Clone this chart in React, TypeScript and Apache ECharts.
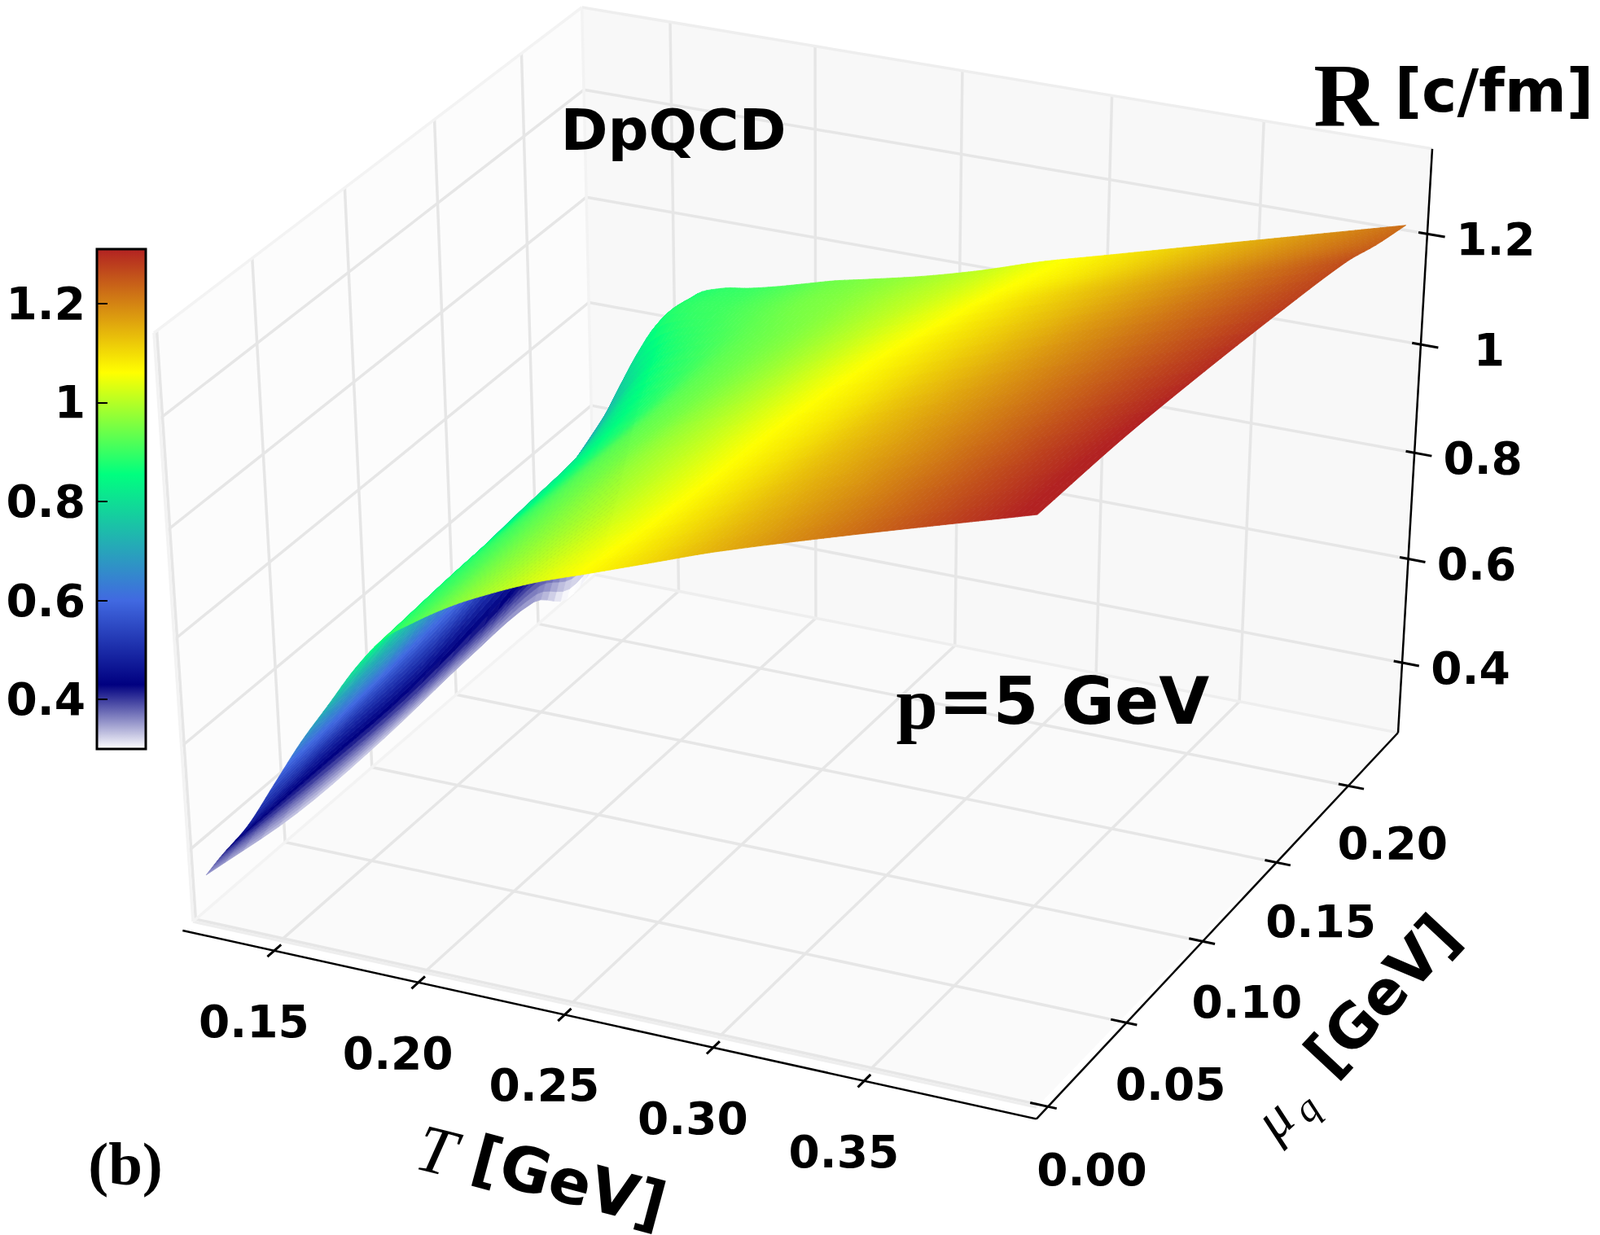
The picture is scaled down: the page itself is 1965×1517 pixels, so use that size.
import React, { useEffect, useRef } from "react";
import * as echarts from "echarts";

// ---------- data ----------
const temperatures = [0.124, 0.13, 0.14, 0.15, 0.16, 0.17, 0.18, 0.19, 0.2, 0.21, 0.22, 0.24, 0.26, 0.28, 0.3, 0.34, 0.4];
const chemicalPotentials = [0, 0.05, 0.1, 0.15, 0.19, 0.21, 0.23];
const rAtMu000 = [0.355, 0.4, 0.47, 0.56, 0.65, 0.73, 0.81, 0.875, 0.915, 0.95, 0.98, 1.03, 1.07, 1.11, 1.15, 1.22, 1.32];
const rAtMu005 = [0.325, 0.39, 0.49, 0.58, 0.67, 0.76, 0.83, 0.885, 0.92, 0.95, 0.975, 1.02, 1.06, 1.1, 1.14, 1.21, 1.315];
const rAtMu010 = [0.325, 0.39, 0.5, 0.61, 0.71, 0.785, 0.84, 0.885, 0.925, 0.95, 0.975, 1.015, 1.055, 1.09, 1.13, 1.2, 1.3];
const rAtMu015 = [0.34, 0.41, 0.55, 0.65, 0.735, 0.805, 0.855, 0.89, 0.925, 0.945, 0.965, 1.005, 1.045, 1.08, 1.115, 1.185, 1.28];
const rAtMu019 = [0.34, 0.44, 0.6, 0.72, 0.8, 0.86, 0.89, 0.91, 0.93, 0.945, 0.96, 0.995, 1.03, 1.065, 1.1, 1.165, 1.26];
const rAtMu021 = [0.29, 0.42, 0.64, 0.78, 0.87, 0.895, 0.905, 0.92, 0.935, 0.95, 0.96, 0.99, 1.02, 1.055, 1.085, 1.15, 1.24];
const rAtMu023 = [0.31, 0.42, 0.64, 0.79, 0.865, 0.89, 0.9, 0.913, 0.928, 0.943, 0.955, 0.98, 1.01, 1.045, 1.075, 1.135, 1.225];
const rRows = [rAtMu000, rAtMu005, rAtMu010, rAtMu015, rAtMu019, rAtMu021, rAtMu023];
const tTicks = [0.15, 0.2, 0.25, 0.3, 0.35];
const muTicks = [0, 0.05, 0.1, 0.15, 0.2];
const zTicks = [0.4, 0.6, 0.8, 1.0, 1.2];
const colorValues = [0.3, 0.43, 0.6, 0.855, 1.06, 1.31];
const colorNames = ["#ffffff", "#000080", "#4169e1", "#00ff7f", "#ffff00", "#b22222"];

// ---------- scene ----------
const W = 1965, H = 1517;
const T_LO = 0.1192, T_HI = 0.4045, MU_LO = -0.0015, MU_HI = 0.2356, Z_LO = 0.2627, Z_HI = 1.3507;
const cA = [237, 1132], cB = [1273, 1360], cC = [731, 706], cD = [1717, 900], cE = [189, 409], cH = [1759, 188];

function buildProjection() {
  const [x0, y0] = cA, [x1, y1] = cB, [x2, y2] = cD, [x3, y3] = cC;
  const dx1 = x1 - x2, dx2 = x3 - x2, sx = x0 - x1 + x2 - x3;
  const dy1 = y1 - y2, dy2 = y3 - y2, sy = y0 - y1 + y2 - y3;
  const den = dx1 * dy2 - dx2 * dy1;
  const g = (sx * dy2 - dx2 * sy) / den, h = (dx1 * sy - sx * dy1) / den;
  const p1 = x1 - x0 + g * x1, p2 = x3 - x0 + h * x3;
  const q1 = y1 - y0 + g * y1, q2 = y3 - y0 + h * y3;
  const [xe, ye] = cE, [xh, yh] = cH;
  const k = (p1 + p2 + xe - xh * (1 + g + h)) / (xh - xe);
  const p3 = xe * (1 + k) - x0, q3 = ye * (1 + k) - y0;
  return (u: number, v: number, w: number) => {
    const d = 1 + g * u + h * v + k * w;
    return [(x0 + p1 * u + p2 * v + p3 * w) / d, (y0 + q1 * u + q2 * v + q3 * w) / d];
  };
}
const projectUVW = buildProjection();
const nT = (t: number) => (t - T_LO) / (T_HI - T_LO);
const nMu = (m: number) => (m - MU_LO) / (MU_HI - MU_LO);
const nZ = (z: number) => (z - Z_LO) / (Z_HI - Z_LO);
const project = (t: number, m: number, z: number) => projectUVW(nT(t), nMu(m), nZ(z));

function rgb(hex: string) {
  return [parseInt(hex.slice(1, 3), 16), parseInt(hex.slice(3, 5), 16), parseInt(hex.slice(5, 7), 16)];
}
function colorOf(v: number) {
  let i = 0;
  while (i < colorValues.length - 2 && v > colorValues[i + 1]) i++;
  const f = Math.max(0, Math.min(1, (v - colorValues[i]) / (colorValues[i + 1] - colorValues[i])));
  const a = rgb(colorNames[i]), b = rgb(colorNames[i + 1]);
  return `rgb(${Math.round(a[0] + (b[0] - a[0]) * f)},${Math.round(a[1] + (b[1] - a[1]) * f)},${Math.round(a[2] + (b[2] - a[2]) * f)})`;
}

// smooth drawing of the surface between the table's nodes
function slope(xs: number[], ys: number[], i: number) {
  const a = Math.max(i - 1, 0), b = Math.min(i + 1, xs.length - 1);
  return (ys[b] - ys[a]) / (xs[b] - xs[a]);
}
function hermite(xs: number[], ys: number[], i: number, f: number) {
  if (f === 0) return ys[i];
  const h = xs[i + 1] - xs[i];
  const m0 = slope(xs, ys, i) * h, m1 = slope(xs, ys, i + 1) * h;
  const f2 = f * f, f3 = f2 * f;
  return (2 * f3 - 3 * f2 + 1) * ys[i] + (f3 - 2 * f2 + f) * m0 + (-2 * f3 + 3 * f2) * ys[i + 1] + (f3 - f2) * m1;
}
const SUB_MU = 5;
const subT = (i: number) => Math.max(6, Math.round((temperatures[i + 1] - temperatures[i]) / 0.002));
function surfaceAt(i: number, fi: number, j: number, fj: number) {
  if (fi >= 1) { i += 1; fi = 0; }
  if (fj >= 1) { j += 1; fj = 0; }
  const t = fi === 0 ? temperatures[i] : temperatures[i] + (temperatures[i + 1] - temperatures[i]) * fi;
  const m = fj === 0 ? chemicalPotentials[j] : chemicalPotentials[j] + (chemicalPotentials[j + 1] - chemicalPotentials[j]) * fj;
  const atT = rRows.map((row) => hermite(temperatures, row, i, fi));
  return [t, m, hermite(chemicalPotentials, atT, j, fj)];
}
function surfaceCells() {
  const cells: number[][] = [];
  for (let i = 0; i < temperatures.length - 1; i++) {
    const n = subT(i);
    for (let si = 0; si < n; si++) {
      for (let j = chemicalPotentials.length - 2; j >= 0; j--) {
        for (let sj = SUB_MU - 1; sj >= 0; sj--) cells.push([i, si, j, sj, n]);
      }
    }
  }
  return cells;
}

function option() {
  const lines: { a: number[]; b: number[]; color: string; width: number }[] = [];
  const grid = "#e6e6e6";
  const seg = (a: number[], b: number[], color = grid, width = 3.5) => lines.push({ a, b, color, width });
  for (const t of tTicks) {
    seg(projectUVW(nT(t), 0, 0), projectUVW(nT(t), 1, 0));
    seg(projectUVW(nT(t), 1, 0), projectUVW(nT(t), 1, 1));
  }
  for (const m of muTicks) {
    seg(projectUVW(0, nMu(m), 0), projectUVW(1, nMu(m), 0));
    seg(projectUVW(0, nMu(m), 0), projectUVW(0, nMu(m), 1));
  }
  for (const z of zTicks) {
    seg(projectUVW(0, 0, nZ(z)), projectUVW(0, 1, nZ(z)));
    seg(projectUVW(0, 1, nZ(z)), projectUVW(1, 1, nZ(z)));
  }
  const edge = "#eeeeee";
  seg(projectUVW(0, 0, 0), projectUVW(1, 0, 0), edge);
  seg(projectUVW(0, 0, 0), projectUVW(0, 1, 0), "#f3f3f3");
  seg(projectUVW(0, 1, 0), projectUVW(1, 1, 0), edge);
  seg(projectUVW(0, 1, 0), projectUVW(0, 1, 1), "#f3f3f3");
  seg(projectUVW(0, 1, 1), projectUVW(1, 1, 1), edge);
  seg(projectUVW(0, 0, 1), projectUVW(0, 1, 1), "#f3f3f3");
  seg(projectUVW(0, 0, 0), projectUVW(0, 0, 1), "#f3f3f3");

  const axes: { a: number[]; b: number[]; width: number }[] = [];
  axes.push({ a: projectUVW(0, -0.024, 0), b: projectUVW(1.0105, -0.024, 0), width: 2.5 });
  axes.push({ a: projectUVW(1.0105, -0.024, 0), b: projectUVW(1.0, 1, 0), width: 2.5 });
  axes.push({ a: projectUVW(1.0, 1, 0), b: projectUVW(1.0, 1, 1), width: 2.5 });

  const labels: any[] = [];
  const label = (text: string, x: number, y: number, size: number, extra: any = {}, rot = 0) =>
    labels.push({
      type: "text", x, y, rotation: (rot * Math.PI) / 180, z: 100,
      style: { text, fill: "#000", font: extra.font || `bold ${size}px "DejaVu Sans"`, align: "center", verticalAlign: "middle" },
    });
  for (const t of tTicks) {
    const u = nT(t);
    axes.push({ a: projectUVW(u + 0.005, -0.04, 0), b: projectUVW(u + 0.005, -0.008, 0), width: 3 });
    const c = projectUVW(u + 0.005, -0.024, 0);
    label(t.toFixed(2), c[0] - 25, c[1] + 87, 55);
  }
  for (const m of muTicks) {
    axes.push({ a: projectUVW(0.99, nMu(m), 0), b: projectUVW(1.02, nMu(m), 0), width: 3 });
    const c = projectUVW(1.0, nMu(m), 0);
    label(m.toFixed(2), c[0] + 56 + 9 * (1 - m / 0.2), c[1] + 80.3 - 8.8 * (m / 0.2), 55);
  }
  for (const z of zTicks) {
    axes.push({ a: projectUVW(0.99, 1, nZ(z)), b: projectUVW(1.02, 1, nZ(z)), width: 3 });
    const c = projectUVW(1.0, 1, nZ(z));
    label(z === 1 ? "1" : z.toFixed(1), c[0] + 84, c[1] + 7, 55);
  }
  label("DpQCD", 827, 160, 70);
  label("R", 1653, 118, 110, { font: 'bold 110px "Liberation Serif"' });
  label("[c/fm]", 1835, 111, 73);
  label("p", 1126, 864, 92, { font: 'bold 92px "Liberation Serif"' });
  label("=5 GeV", 1319, 861, 80);
  label("(b)", 154, 1429, 75, { font: 'bold 75px "Liberation Serif"' });
  label("T", 536, 1413, 83, { font: 'italic 83px "Liberation Serif"' }, -14);
  label("[GeV]", 699, 1451, 76, {}, -15);
  label("μ", 1564, 1374, 70, { font: 'italic 70px "Liberation Serif"' }, 43);
  label("q", 1604, 1361, 48, { font: 'italic 48px "Liberation Serif"' }, 43);
  label("[GeV]", 1697, 1222, 74, {}, 47);

  const hiddenX = { type: "value", min: 0, max: W, show: false, gridIndex: 0 };
  const hiddenY = { type: "value", min: 0, max: H, inverse: true, show: false, gridIndex: 0 };
  const ptsOf = (api: any, pts: number[][]) => pts.map((p) => api.coord(p));

  const panes = [
    { pts: [[0, 0, 0], [1, 0, 0], [1, 1, 0], [0, 1, 0]], color: "#fafafa" },
    { pts: [[0, 1, 0], [1, 1, 0], [1, 1, 1], [0, 1, 1]], color: "#f8f8f8" },
    { pts: [[0, 0, 0], [0, 1, 0], [0, 1, 1], [0, 0, 1]], color: "#fcfcfc" },
  ];

  const barMin = colorValues[0], barMax = colorValues[colorValues.length - 1];
  const stops = colorValues.map((v, i) => ({ offset: (barMax - v) / (barMax - barMin), color: colorNames[i] })).reverse();

  return {
    animation: false,
    backgroundColor: "#ffffff",
    grid: [
      { left: 0, top: 0, right: 0, bottom: 0 },
      { left: 119, top: 306, width: 60, height: 614 },
    ],
    xAxis: [hiddenX, { type: "value", min: 0, max: 1, show: false, gridIndex: 1 }],
    yAxis: [
      hiddenY,
      {
        type: "value", gridIndex: 1, min: barMin, max: barMax, position: "left",
        axisLine: { show: false },
        splitLine: { show: false },
        axisTick: { show: true, inside: true, length: 13, lineStyle: { color: "#000", width: 2 }, customValues: zTicks },
        axisLabel: {
          show: true, margin: 14, fontSize: 55, fontWeight: "bold", fontFamily: "DejaVu Sans", color: "#000",
          customValues: zTicks, formatter: (v: number) => (Math.abs(v - 1) < 1e-6 ? "1" : v.toFixed(1)),
        },
        z: 20,
      },
    ],
    series: [
      {
        type: "custom", xAxisIndex: 0, yAxisIndex: 0, z: 1, silent: true, clip: false,
        data: panes.map((_, i) => [i]),
        renderItem: (params: any, api: any) => {
          const p = panes[params.dataIndex];
          return { type: "polygon", shape: { points: ptsOf(api, p.pts.map((q) => projectUVW(q[0], q[1], q[2]))) }, style: { fill: p.color } };
        },
      },
      {
        type: "custom", xAxisIndex: 0, yAxisIndex: 0, z: 2, silent: true, clip: false,
        data: lines.map((_, i) => [i]),
        renderItem: (params: any, api: any) => {
          const l = lines[params.dataIndex];
          const [a, b] = ptsOf(api, [l.a, l.b]);
          return { type: "line", shape: { x1: a[0], y1: a[1], x2: b[0], y2: b[1] }, style: { stroke: l.color, lineWidth: l.width } };
        },
      },
      {
        type: "custom", xAxisIndex: 0, yAxisIndex: 0, z: 3, silent: true, clip: false,
        data: axes.map((_, i) => [i]),
        renderItem: (params: any, api: any) => {
          const l = axes[params.dataIndex];
          const [a, b] = ptsOf(api, [l.a, l.b]);
          return { type: "line", shape: { x1: a[0], y1: a[1], x2: b[0], y2: b[1] }, style: { stroke: "#000", lineWidth: l.width } };
        },
      },
      {
        type: "custom", xAxisIndex: 0, yAxisIndex: 0, z: 5, silent: true, clip: false,
        data: surfaceCells(),
        renderItem: (params: any, api: any) => {
          const i = api.value(0), si = api.value(1), j = api.value(2), sj = api.value(3), n = api.value(4);
          const a = surfaceAt(i, si / n, j, sj / SUB_MU);
          const b = surfaceAt(i, (si + 1) / n, j, sj / SUB_MU);
          const c = surfaceAt(i, (si + 1) / n, j, (sj + 1) / SUB_MU);
          const d = surfaceAt(i, si / n, j, (sj + 1) / SUB_MU);
          const fill = colorOf((a[2] + b[2] + c[2] + d[2]) / 4);
          return {
            type: "polygon",
            shape: { points: ptsOf(api, [a, b, c, d].map((q) => project(q[0], q[1], q[2]))) },
            style: { fill, stroke: fill, lineWidth: 0.8 },
          };
        },
      },
      {
        type: "custom", xAxisIndex: 1, yAxisIndex: 1, z: 10, silent: true, clip: false,
        data: [[0, barMin, 1, barMax]],
        renderItem: (_: any, api: any) => {
          const p0 = api.coord([api.value(0), api.value(3)]);
          const p1 = api.coord([api.value(2), api.value(1)]);
          return {
            type: "rect",
            shape: { x: p0[0], y: p0[1], width: p1[0] - p0[0], height: p1[1] - p0[1] },
            style: {
              fill: new echarts.graphic.LinearGradient(0, 0, 0, 1, stops),
              stroke: "#000", lineWidth: 3,
            },
          };
        },
      },
    ],
    graphic: labels,
  };
}

export default function App() {
  const ref = useRef<HTMLDivElement>(null);
  useEffect(() => {
    const chart = echarts.init(ref.current!, undefined, { renderer: "svg" });
    chart.setOption(option() as any);
    return () => chart.dispose();
  }, []);
  return <div ref={ref} style={{ position: "absolute", left: 0, top: 0, width: W, height: H }} />;
}
